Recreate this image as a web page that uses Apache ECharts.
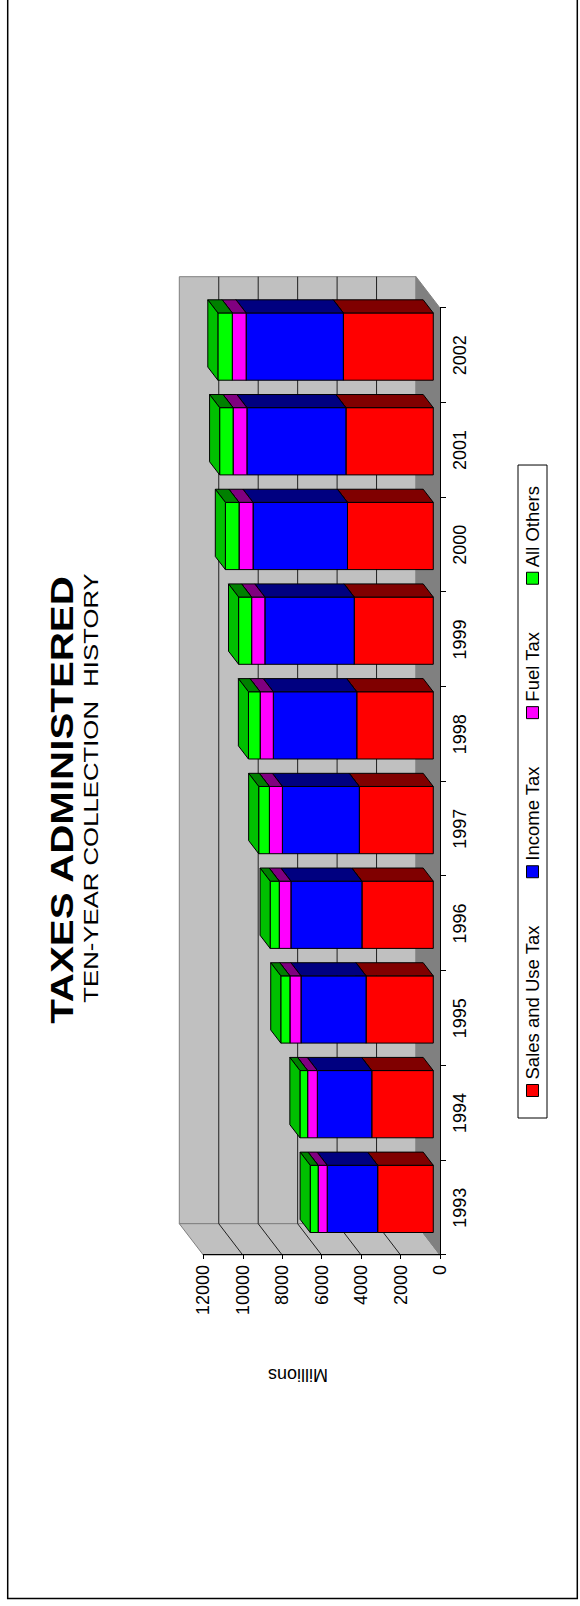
<!DOCTYPE html>
<html>
<head>
<meta charset="utf-8">
<title>Taxes Administered</title>
<script src="https://cdn.jsdelivr.net/npm/echarts@6/dist/echarts.min.js"></script>
<style>
  html, body { margin: 0; padding: 0; background: #fff; overflow: hidden; }
  #page { position: absolute; left: 0; top: 0; width: 580px; height: 1606px; overflow: hidden; background: #fff; }
  /* the chart is laid out landscape and turned a quarter-turn counter-clockwise onto the portrait page */
  #chart { position: absolute; left: 0; top: 0; width: 1606px; height: 580px;
           transform-origin: 0 0; transform: translateY(1606px) rotate(-90deg); }
</style>
</head>
<body>
<div id="page"><div id="chart"></div></div>
<script>
// ---- data (millions of dollars) ----
const years = ['1993', '1994', '1995', '1996', '1997', '1998', '1999', '2000', '2001', '2002'];
const salesAndUseTax = [2820, 3120, 3410, 3620, 3750, 3880, 4010, 4350, 4430, 4560];
const incomeTax      = [2560, 2760, 3300, 3600, 3900, 4230, 4530, 4790, 5020, 4930];
const fuelTax        = [460, 490, 560, 590, 660, 670, 670, 710, 700, 700];
const allOthers      = [400, 390, 460, 460, 540, 590, 660, 690, 680, 730];
const seriesNames = ['Sales and Use Tax', 'Income Tax', 'Fuel Tax', 'All Others'];
const valueMin = 0, valueMax = 12000, valueStep = 2000;

// ---- look of the pseudo-3D boxes ----
const FONT = "'Liberation Sans', Arial, Helvetica, sans-serif";
const DEPTH = [31.3, -24];     // screen offset from the front plane to the back wall
const BAR_FRONT = 0.28;        // where the boxes start within the depth
const BAR_THICK = 0.42;        // box depth as a share of the full depth
const BAR_RATIO = 0.71;        // box width as a share of the category band
const palette = [
  { face: '#FF0000', side: '#800000', top: '#C00000' },
  { face: '#0000FF', side: '#000080', top: '#0000C0' },
  { face: '#FF00FF', side: '#800080', top: '#C000C0' },
  { face: '#00FF00', side: '#008000', top: '#00C000' }
];

const layers = [salesAndUseTax, incomeTax, fuelTax, allOthers];

// stacked [index, base, top] triples for every layer
const stacked = [];
const running = years.map(() => 0);
layers.forEach((vals) => {
  const rows = vals.map((v, i) => {
    const row = [i, running[i], running[i] + v];
    running[i] += v;
    return row;
  });
  stacked.push(rows);
});

const edge = { stroke: '#000', lineWidth: 1 };

function boxItem(colors) {
  return function (params, api) {
    const idx = api.value(0);
    const lo = api.value(1);
    const hi = api.value(2);
    const band = api.size([1, 0])[0];
    const p0 = api.coord([idx, lo]);
    const p1 = api.coord([idx, hi]);
    const w = band * BAR_RATIO;
    const fx = DEPTH[0] * BAR_FRONT, fy = DEPTH[1] * BAR_FRONT;
    const dx = DEPTH[0] * BAR_THICK, dy = DEPTH[1] * BAR_THICK;
    const xl = p0[0] - w / 2 + fx, xr = p0[0] + w / 2 + fx;
    const yb = p0[1] + fy, yt = p1[1] + fy;
    return {
      type: 'group',
      children: [
        { type: 'polygon', shape: { points: [[xl, yt], [xr, yt], [xr, yb], [xl, yb]] },
          style: Object.assign({ fill: colors.face }, edge) },
        { type: 'polygon', shape: { points: [[xr, yb], [xr + dx, yb + dy], [xr + dx, yt + dy], [xr, yt]] },
          style: Object.assign({ fill: colors.side }, edge) },
        { type: 'polygon', shape: { points: [[xl, yt], [xr, yt], [xr + dx, yt + dy], [xl + dx, yt + dy]] },
          style: Object.assign({ fill: colors.top }, edge) }
      ]
    };
  };
}

// back wall, side wall, floor and their gridlines
function wallsItem(params, api) {
  const band = api.size([1, 0])[0];
  const origin = api.coord([0, valueMin]);
  const x0 = origin[0] - band / 2;
  const x1 = x0 + band * years.length;
  const y0 = origin[1];
  const yT = api.coord([0, valueMax])[1];
  const [Dx, Dy] = DEPTH;
  const wall = { fill: '#C0C0C0', stroke: '#808080', lineWidth: 1 };
  const children = [
    { type: 'polygon', shape: { points: [[x0 + Dx, y0 + Dy], [x1 + Dx, y0 + Dy], [x1 + Dx, yT + Dy], [x0 + Dx, yT + Dy]] }, style: wall },
    { type: 'polygon', shape: { points: [[x0, y0], [x0 + Dx, y0 + Dy], [x0 + Dx, yT + Dy], [x0, yT]] }, style: wall },
    { type: 'polygon', shape: { points: [[x0, y0], [x1, y0], [x1 + Dx, y0 + Dy], [x0 + Dx, y0 + Dy]] },
      style: { fill: '#808080', stroke: '#808080', lineWidth: 1 } }
  ];
  for (let v = valueMin + valueStep; v < valueMax; v += valueStep) {
    const y = api.coord([0, v])[1];
    children.push({ type: 'line', shape: { x1: x0, y1: y, x2: x0 + Dx, y2: y + Dy }, style: { stroke: '#202020', lineWidth: 1 } });
    children.push({ type: 'line', shape: { x1: x0 + Dx, y1: y + Dy, x2: x1 + Dx, y2: y + Dy }, style: { stroke: '#202020', lineWidth: 1 } });
  }
  return { type: 'group', children };
}

const series = [{
  type: 'custom',
  name: 'walls',
  z: 1,
  silent: true,
  renderItem: wallsItem,
  encode: { x: 0, y: [1, 2] },
  data: [[0, valueMin, valueMax]]
}];
seriesNames.forEach((name, s) => {
  series.push({
    type: 'custom',
    name: name,
    z: 2,
    itemStyle: { color: palette[s].face },
    renderItem: boxItem(palette[s]),
    encode: { x: 0, y: [1, 2] },
    data: stacked[s]
  });
});

const chart = echarts.init(document.getElementById('chart'), null, { renderer: 'svg' });
chart.setOption({
  animation: false,
  backgroundColor: '#fff',
  grid: { left: 351, top: 203.3, width: 947, height: 236.7, containLabel: false },
  xAxis: {
    type: 'category',
    data: years,
    z: 10,
    boundaryGap: true,
    axisLine: { lineStyle: { color: '#000', width: 1 } },
    axisTick: { show: true, length: 6, interval: 0, lineStyle: { color: '#000' } },
    axisLabel: { interval: 0, margin: 11, color: '#000', fontSize: 18, fontFamily: FONT },
    splitLine: { show: false }
  },
  yAxis: {
    type: 'value',
    min: valueMin, max: valueMax, interval: valueStep,
    z: 10,
    axisLine: { show: true, lineStyle: { color: '#000', width: 1 } },
    axisTick: { show: true, length: 4, lineStyle: { color: '#000' } },
    axisLabel: { margin: 10, color: '#000', fontSize: 18, fontFamily: FONT,
                 formatter: (v) => String(v) },
    splitLine: { show: false }
  },
  legend: {
    data: seriesNames,
    selectedMode: false,
    orient: 'horizontal',
    left: 488, top: 518,
    padding: [5, 21, 5, 21],
    itemGap: 47,
    itemWidth: 12, itemHeight: 12,
    icon: 'rect',
    borderColor: '#000', borderWidth: 1,
    itemStyle: { borderColor: '#000', borderWidth: 1 },
    textStyle: { color: '#000', fontSize: 18.5, fontFamily: FONT }
  },
  graphic: [
    { type: 'rect', silent: true, z: 0,
      shape: { x: 7.5, y: 7.7, width: 1640, height: 569.6 },
      style: { fill: 'none', stroke: '#000', lineWidth: 1.5 } },
    { type: 'text', silent: true, x: 806, y: 62, scaleX: 1.3,
      style: { text: 'TAXES ADMINISTERED', font: 'bold 31px ' + FONT, fill: '#000',
               align: 'center', verticalAlign: 'middle', textAlign: 'center', textVerticalAlign: 'middle' } },
    { type: 'text', silent: true, x: 818, y: 91, scaleX: 1.32,
      style: { text: 'TEN-YEAR COLLECTION  HISTORY', font: '19.5px ' + FONT, fill: '#000',
               align: 'center', verticalAlign: 'middle', textAlign: 'center', textVerticalAlign: 'middle' } },
    { type: 'text', silent: true, x: 231, y: 298, rotation: Math.PI / 2,
      style: { text: 'Millions', font: '18px ' + FONT, fill: '#000',
               align: 'center', verticalAlign: 'middle', textAlign: 'center', textVerticalAlign: 'middle' } }
  ],
  series: series
});
</script>
</body>
</html>
